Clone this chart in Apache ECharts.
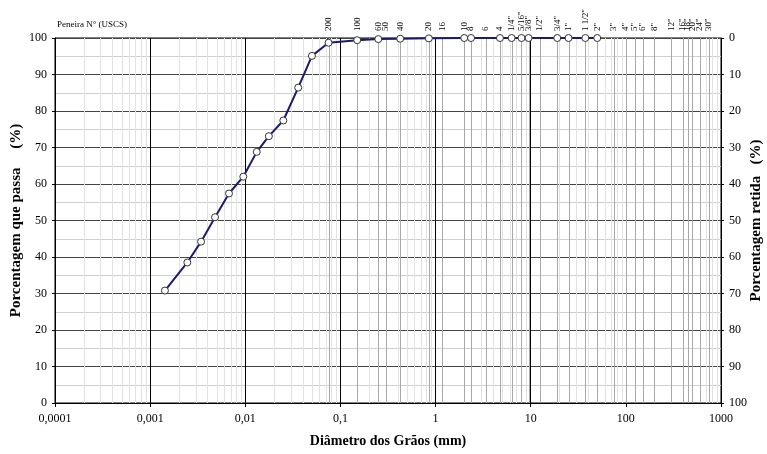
<!DOCTYPE html>
<html>
<head>
<meta charset="utf-8">
<script src="https://cdn.jsdelivr.net/npm/echarts@6/dist/echarts.min.js"></script>
<style>
html,body{margin:0;padding:0;background:#fff;}
#chart{width:767px;height:454px;}
</style>
</head>
<body>
<div id="chart"></div>
<script>
// Grain size data (mm) and percent passing
const diameters = [0.00143, 0.00246, 0.00343, 0.00481, 0.00674, 0.00953, 0.0132, 0.0177, 0.0251, 0.0360, 0.0502, 0.075, 0.15, 0.25, 0.425, 0.85, 2.0, 2.36, 4.75, 6.3, 8.0, 9.5, 19, 25, 37.5, 50];
const passing   = [30.8, 38.5, 44.2, 50.9, 57.4, 62.0, 68.8, 73.1, 77.4, 86.4, 95.1, 98.7, 99.4, 99.7, 99.8, 99.9, 100, 100, 100, 100, 100, 100, 100, 100, 100, 100];

// Sieve openings (mm) and their names (USCS)
const sieveSizes = [0.075, 0.15, 0.25, 0.30, 0.425, 0.85, 1.18, 2.0, 2.36, 3.35, 4.75, 6.3, 8.0, 9.5, 12.5, 19, 25, 37.5, 50, 75, 100, 125, 150, 200, 300, 400, 450, 500, 600, 750];
const sieveNames = ['200', '100', '60', '50', '40', '20', '16', '10', '8', '6', '4', '1/4"', '5/16"', '3/8"', '1/2"', '3/4"', '1"', '1 1/2"', '2"', '3"', '4"', '5"', '6"', '8"', '12"', '16"', '18"', '20"', '24"', '30"'];

// Axis settings
const xMin = 0.0001, xMax = 1000;
const yTicks = [0, 10, 20, 30, 40, 50, 60, 70, 80, 90, 100];

// Minor log grid positions (2..9 within each decade)
const minorGrid = [];
for (let e = -4; e < 3; e++) {
  for (let m = 2; m <= 9; m++) minorGrid.push(m * Math.pow(10, e));
}

const serif = '"Liberation Serif", "Times New Roman", serif';

function fmtX(v) {
  const e = Math.round(Math.log10(v));
  if (e < 0) return '0,' + '0'.repeat(-e - 1) + '1';
  return String(Math.pow(10, e));
}

const chart = echarts.init(document.getElementById('chart'), null, {renderer: 'canvas'});

function vline(color) {
  return function (params, api) {
    const x = api.value(0);
    const p1 = api.coord([x, 0]);
    const p2 = api.coord([x, 100]);
    return {
      type: 'line',
      shape: {x1: Math.round(p1[0]) + 0.5, y1: p1[1], x2: Math.round(p2[0]) + 0.5, y2: p2[1]},
      style: {stroke: color, lineWidth: 1}
    };
  };
}

const option = {
  animation: false,
  backgroundColor: '#fff',
  grid: {left: 55, right: 46, top: 38, bottom: 51, show: true, borderColor: '#000', borderWidth: 1, containLabel: false, outerBoundsMode: 'none'},
  xAxis: {
    type: 'log',
    logBase: 10,
    min: xMin,
    max: xMax,
    name: 'Diâmetro dos Grãos (mm)',
    nameLocation: 'middle',
    nameGap: 31,
    nameMoveOverlap: false,
    nameTextStyle: {fontFamily: serif, fontWeight: 'bold', fontSize: 14, color: '#000'},
    axisLine: {show: true, lineStyle: {color: '#000', width: 1}},
    axisTick: {show: true, length: 4, inside: false, lineStyle: {color: '#000'}},
    axisLabel: {formatter: fmtX, fontFamily: serif, fontSize: 12, color: '#000', margin: 10},
    splitLine: {show: true, lineStyle: {color: '#000', width: 1}}
  },
  yAxis: [
    {
      type: 'value', min: 0, max: 100, interval: 10, position: 'left',
      name: 'Porcentagem que passa     (%)',
      nameLocation: 'middle', nameGap: 31, nameRotate: 90, nameMoveOverlap: false,
      nameTextStyle: {fontFamily: serif, fontWeight: 'bold', fontSize: 15, color: '#000'},
      axisLine: {show: true, lineStyle: {color: '#000'}},
      axisTick: {show: true, length: 3, lineStyle: {color: '#000'}},
      axisLabel: {fontFamily: serif, fontSize: 12, color: '#000', margin: 8},
      splitLine: {show: true, lineStyle: {color: '#444', width: 1}},
      minorTick: {show: false, splitNumber: 2},
      minorSplitLine: {show: true, lineStyle: {color: '#cfcfcf', width: 1}}
    },
    {
      type: 'value', min: 0, max: 100, interval: 10, position: 'right', inverse: true,
      name: 'Porcentagem retida   (%)',
      nameLocation: 'middle', nameGap: 28, nameRotate: 90, nameMoveOverlap: false,
      nameTextStyle: {fontFamily: serif, fontWeight: 'bold', fontSize: 15, color: '#000'},
      axisLine: {show: true, lineStyle: {color: '#000'}},
      axisTick: {show: true, length: 3, lineStyle: {color: '#000'}},
      axisLabel: {fontFamily: serif, fontSize: 12, color: '#000', margin: 8},
      splitLine: {show: false}
    }
  ],
  graphic: [
    {type: 'text', left: 57, top: 20, style: {text: 'Peneira N° (USCS)', font: '9px ' + serif, fill: '#000'}}
  ],
  series: [
    {
      type: 'custom', name: 'minor', silent: true, z: 0, clip: false,
      encode: {x: 0, y: 1},
      data: minorGrid.map(v => [v, 0]),
      renderItem: vline('#e2e2e2')
    },
    {
      type: 'custom', name: 'sieveLines', silent: true, z: 1, clip: false,
      encode: {x: 0, y: 1},
      data: sieveSizes.map(v => [v, 0]),
      renderItem: vline('#a8a8a8')
    },
    {
      type: 'custom', name: 'sieveLabels', silent: true, z: 5, clip: false,
      encode: {x: 0, y: 1},
      data: sieveSizes.map((v, i) => [v, 100, i]),
      renderItem: function (params, api) {
        const x = api.value(0);
        const p = api.coord([x, 100]);
        return {
          type: 'text',
          x: p[0], y: p[1] - 7,
          rotation: Math.PI / 2,
          style: {text: sieveNames[api.value(2)], x: 0, y: 0, align: 'left', verticalAlign: 'middle', font: '9px ' + serif, fill: '#000'}
        };
      }
    },
    {
      type: 'line', name: 'passing', z: 10,
      data: diameters.map((d, i) => [d, passing[i]]),
      lineStyle: {color: '#1b1b6e', width: 2},
      symbol: 'circle', symbolSize: 7,
      itemStyle: {color: '#fff', borderColor: '#333', borderWidth: 1},
      emphasis: {disabled: true}
    }
  ]
};

chart.setOption(option);
</script>
</body>
</html>
